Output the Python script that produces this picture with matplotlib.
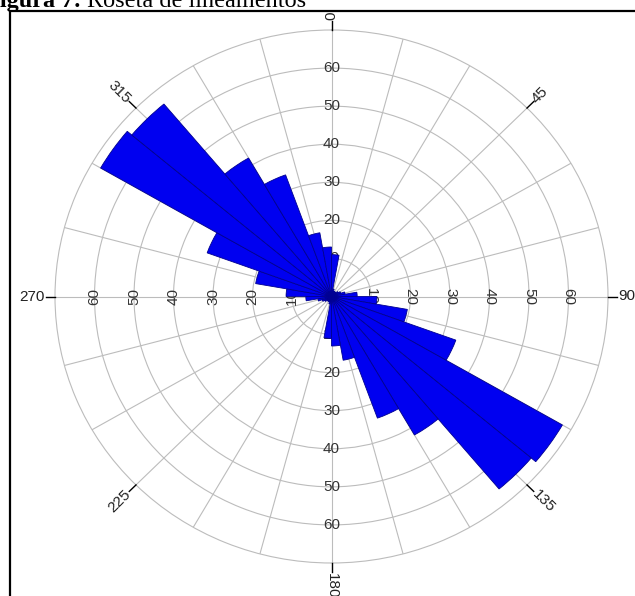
import matplotlib
matplotlib.use('Agg')
import matplotlib.pyplot as plt
import numpy as np
from matplotlib.patches import Rectangle

# ---- data ----
bin_start_deg = list(range(0, 360, 10))
counts = [11, 2, 1.5, 1.5, 1.5, 2, 2.5, 3.5, 6.5, 11.5, 19.5, 33.5, 67.5, 66, 42, 34, 17, 13,
          11, 2, 1.5, 1.5, 1.5, 2, 2.5, 3.5, 6.5, 11.5, 19.5, 33.5, 67.5, 66, 42, 34, 17, 13]
ring_values = [10, 20, 30, 40, 50, 60]
r_max = 70
dir_labels = [0, 45, 90, 135, 180, 225, 270, 315]
title_bold = 'Figura 7:'
title_rest = 'Roseta de lineamentos'

W, H = 635, 596
fig = plt.figure(figsize=(W / 100, H / 100), dpi=100)
fig.patch.set_facecolor('white')

cx, cy = 331.5, H - 296.5
rx, ry = 276.5, 266.5
ax = fig.add_axes([(cx - rx) / W, (cy - ry) / H, 2 * rx / W, 2 * ry / H], projection='polar')
ax.set_aspect('auto')
ax.set_theta_zero_location('N')
ax.set_theta_direction(-1)
ax.set_ylim(0, r_max)
ax.set_yticks(ring_values)
ax.set_yticklabels([])
ax.set_xticks(np.deg2rad(np.arange(0, 360, 15)))
ax.set_xticklabels([])
ax.tick_params(length=0)
ax.set_axisbelow(True)
ax.grid(True, color='#bcbcbc', linewidth=0.8)
ax.spines['polar'].set_color('#bcbcbc')
ax.spines['polar'].set_linewidth(0.8)
ax.set_facecolor('white')

ax.bar(np.deg2rad(bin_start_deg), counts, width=np.deg2rad(10), align='edge',
       color='#0000f0', edgecolor='#000090', linewidth=0.6, zorder=3)

lab_kw = dict(ha='center', va='center', fontsize=11, color='#333333',
              family='Liberation Sans', zorder=2, rotation_mode='anchor')
for r in ring_values:
    ax.text(0, r, str(r), **lab_kw)
    ax.text(np.pi, r, str(r), **lab_kw)
    ax.text(np.pi / 2, r, str(r), rotation=-90, **lab_kw)
    ax.text(3 * np.pi / 2, r, str(r), rotation=90, **lab_kw)

rot_map = {0: (90, 'left'), 45: (45, 'left'), 90: (0, 'left'), 135: (-45, 'left'),
           180: (-90, 'left'), 225: (45, 'right'), 270: (0, 'right'), 315: (-45, 'right')}
for d in dir_labels:
    th = np.deg2rad(d)
    ax.plot([th, th], [r_max, r_max + 2.4], color='black', lw=1.0, clip_on=False, zorder=4)
    rot, ha = rot_map[d]
    ax.text(th, r_max + 2.6, str(d), rotation=rot, ha=ha, va='center', rotation_mode='anchor',
            fontsize=11, color='#222222', family='Liberation Sans', clip_on=False)

# frame
fig.add_artist(Rectangle((9.5 / W, -20 / H), (W + 40) / W, (H - 11.5 + 20) / H,
                         transform=fig.transFigure, fill=False, edgecolor='black', linewidth=1.6))

# title (cut at top edge)
base_y = (H - 7) / H
fig.text(81 / W, base_y, title_bold, fontweight='bold', family='Liberation Serif',
         fontsize=17.5, va='baseline', ha='right')
fig.text(87 / W, base_y, title_rest, family='Liberation Serif',
         fontsize=17.5, va='baseline', ha='left')

fig.savefig('out.png', dpi=100)
